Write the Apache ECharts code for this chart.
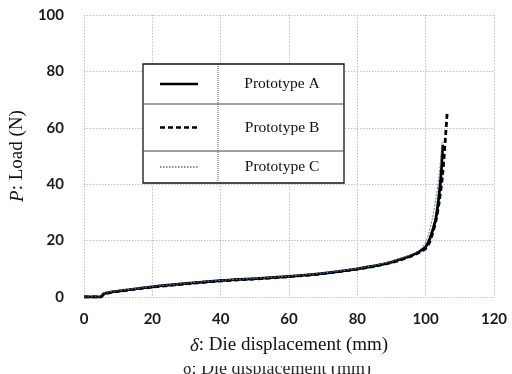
<!DOCTYPE html>
<html>
<head>
<meta charset="utf-8">
<script src="https://cdn.jsdelivr.net/npm/echarts@6/dist/echarts.min.js"></script>
<style>
  html, body { margin: 0; padding: 0; background: #fff; }
  #chart { width: 512px; height: 374px; }
</style>
</head>
<body>
<div id="chart"></div>
<script>
// Load–displacement curves for the three die prototypes
const seriesNames = ['Prototype A', 'Prototype B', 'Prototype C'];

const dispA = [0, 4.7, 5.8, 10, 20, 30, 40, 50, 60, 70, 80, 85, 90, 93, 96, 98, 99, 100, 101, 102, 103, 104, 104.6, 105];
const loadA = [0, 0, 1.2, 2.1, 3.6, 4.8, 5.8, 6.5, 7.3, 8.4, 10, 11, 12.4, 13.5, 14.8, 16, 16.8, 17.8, 20, 23.5, 28, 37, 45, 54];

const dispB = [0, 4.9, 6.0, 10, 20, 30, 40, 50, 60, 70, 80, 85, 90, 93, 96, 98, 99, 100, 101, 102, 103, 104, 105, 105.7, 106.3];
const loadB = [0, 0, 1.1, 2.0, 3.5, 4.7, 5.7, 6.4, 7.2, 8.3, 9.9, 10.9, 12.2, 13.3, 14.6, 15.7, 16.4, 17.2, 19, 22.5, 27, 34, 44, 55, 65.5];

const dispC = [0, 4.5, 5.5, 10, 20, 30, 40, 50, 60, 70, 80, 85, 90, 93, 96, 98, 99, 100, 101, 102, 103, 104, 104.8];
const loadC = [0, 0, 1.3, 2.2, 3.7, 4.9, 5.9, 6.6, 7.4, 8.5, 10.1, 11.2, 12.6, 13.8, 15.2, 16.5, 17.6, 19.5, 23, 28, 35, 44, 55];

const xTicks = [0, 20, 40, 60, 80, 100, 120];
const yTicks = [0, 20, 40, 60, 80, 100];

const pairs = (xs, ys) => xs.map((x, i) => [x, ys[i]]);

const lineStyles = [
  { color: '#000', width: 2.8, type: 'solid' },
  { color: '#000', width: 2.8, type: [5, 3] },
  { color: '#4f7fae', width: 1, type: [2, 1.5] }
];
const legendLineStyles = [
  { stroke: '#000', lineWidth: 2.4, lineDash: null },
  { stroke: '#000', lineWidth: 2.4, lineDash: [5, 3] },
  { stroke: '#222', lineWidth: 1, lineDash: [1.5, 1.5] }
];

const serif = '"Liberation Serif", "DejaVu Serif", serif';
const sans = 'Lato, "Open Sans", sans-serif';

// Table-style legend: rows (top, bottom) and columns
const legendBox = { left: 143, right: 344, top: 64, bottom: 183, divX: 218 };
const rowEdges = [64, 104, 151, 183];

const graphics = [];
graphics.push({
  type: 'rect', z: 100,
  shape: { x: legendBox.left, y: legendBox.top, width: legendBox.right - legendBox.left, height: legendBox.bottom - legendBox.top },
  style: { fill: '#fff', stroke: '#111', lineWidth: 1.3 }
});
graphics.push({
  type: 'line', z: 101,
  shape: { x1: legendBox.divX, y1: legendBox.top, x2: legendBox.divX, y2: legendBox.bottom },
  style: { stroke: '#333', lineWidth: 0.8, lineDash: [1, 1] }
});
for (let i = 1; i < rowEdges.length - 1; i++) {
  graphics.push({
    type: 'line', z: 101,
    shape: { x1: legendBox.left, y1: rowEdges[i], x2: legendBox.right, y2: rowEdges[i] },
    style: { stroke: '#444', lineWidth: 1 }
  });
}
seriesNames.forEach((name, i) => {
  const cy = (rowEdges[i] + rowEdges[i + 1]) / 2;
  graphics.push({
    type: 'line', z: 102,
    shape: { x1: 160, y1: cy, x2: 198, y2: cy },
    style: legendLineStyles[i]
  });
  graphics.push({
    type: 'text', z: 102,
    x: (legendBox.divX + legendBox.right) / 2 + 1, y: cy,
    style: { text: name, font: '15.5px ' + serif, fill: '#111', align: 'center', verticalAlign: 'middle' }
  });
});

// Lower half of a second text line bleeding in at the bottom edge
graphics.push({
  type: 'text', z: 50, x: 277, y: 369,
  style: { text: '\u03b4: Die displacement (mm)', font: '18px ' + serif, fill: '#2a2a2a', align: 'center', verticalAlign: 'middle' }
});
graphics.push({
  type: 'rect', z: 51,
  shape: { x: 150, y: 356, width: 260, height: 10 },
  style: { fill: '#fff' }
});

const chart = echarts.init(document.getElementById('chart'), null, { renderer: 'canvas' });

const gridLine = { show: true, lineStyle: { color: '#c3bcd9', width: 1, type: [1.5, 1.5] } };
const titleStyle = {
  fontFamily: serif, fontSize: 19, color: '#111',
  rich: { i: { fontFamily: serif, fontSize: 19, fontStyle: 'italic', color: '#111' } }
};

chart.setOption({
  backgroundColor: '#fff',
  animation: false,
  grid: { left: 82, right: 18, top: 15, bottom: 77 },
  xAxis: {
    type: 'value', min: xTicks[0], max: xTicks[xTicks.length - 1], interval: 20,
    axisLine: { show: false }, axisTick: { show: false },
    splitLine: gridLine,
    axisLabel: { fontFamily: sans, fontSize: 15, fontWeight: 'bold', color: '#1a1a1a', margin: 15 },
    name: '{i|\u03b4}: Die displacement (mm)',
    nameLocation: 'middle', nameGap: 39,
    nameTextStyle: titleStyle
  },
  yAxis: {
    type: 'value', min: yTicks[0], max: yTicks[yTicks.length - 1], interval: 20,
    axisLine: { show: false }, axisTick: { show: false },
    splitLine: gridLine,
    axisLabel: { fontFamily: sans, fontSize: 15, fontWeight: 'bold', color: '#1a1a1a', margin: 20 },
    name: '{i|P}: Load (N)',
    nameLocation: 'middle', nameGap: 51,
    nameTextStyle: titleStyle
  },
  series: [
    { name: seriesNames[2], type: 'line', data: pairs(dispC, loadC), showSymbol: false, smooth: 0.3, lineStyle: lineStyles[2], z: 4 },
    { name: seriesNames[0], type: 'line', data: pairs(dispA, loadA), showSymbol: false, smooth: 0.3, lineStyle: lineStyles[0], z: 2 },
    { name: seriesNames[1], type: 'line', data: pairs(dispB, loadB), showSymbol: false, smooth: 0.3, lineStyle: lineStyles[1], z: 3 }
  ],
  graphic: graphics
});
</script>
</body>
</html>
